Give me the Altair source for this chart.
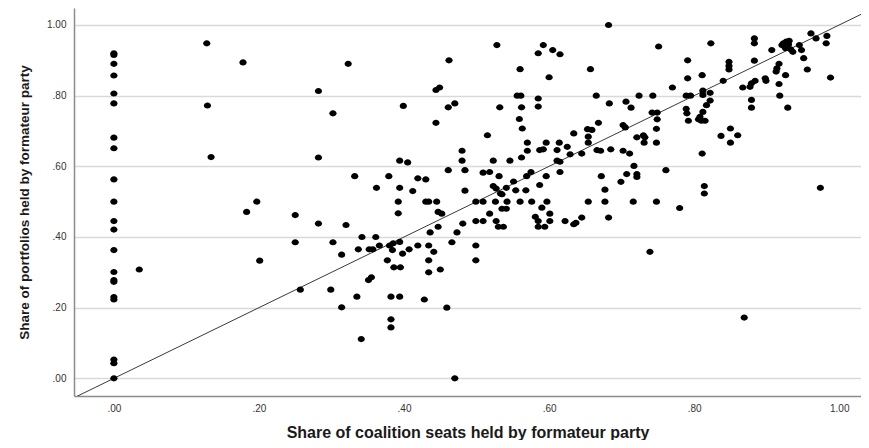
import altair as alt
import pandas as pd

# --- data (share of seats, share of portfolios) ---
x_g0 = [0.0] * 21
y_g0 = [0.92, 0.915, 0.89, 0.857, 0.806, 0.778, 0.681, 0.651, 0.563, 0.50, 0.445,
        0.421, 0.363, 0.301, 0.278, 0.273, 0.23, 0.223, 0.053, 0.043, 0.0]

x_g1 = [0.035, 0.128, 0.129, 0.134, 0.178, 0.183, 0.197, 0.201, 0.25, 0.25, 0.257]
y_g1 = [0.308, 0.948, 0.772, 0.626, 0.894, 0.471, 0.50, 0.333, 0.462, 0.385, 0.251]

x_g2 = [0.282, 0.282, 0.282, 0.299, 0.302, 0.302, 0.314, 0.314, 0.32, 0.323, 0.332,
        0.335, 0.337, 0.341, 0.342, 0.351, 0.352, 0.355, 0.357]
y_g2 = [0.625, 0.813, 0.438, 0.251, 0.75, 0.385, 0.350, 0.201, 0.434, 0.89, 0.572,
        0.231, 0.365, 0.111, 0.40, 0.278, 0.365, 0.286, 0.365]

x_g3 = [0.361, 0.362, 0.366, 0.377, 0.379, 0.380, 0.382, 0.382, 0.382, 0.384, 0.385,
        0.386, 0.392, 0.392, 0.394, 0.394, 0.394, 0.394, 0.395, 0.398, 0.399, 0.405,
        0.407, 0.412, 0.419, 0.419, 0.428, 0.430, 0.430, 0.434, 0.434, 0.434, 0.434,
        0.436, 0.441, 0.444, 0.444, 0.445, 0.447, 0.447, 0.449, 0.45]
y_g3 = [0.40, 0.539, 0.376, 0.334, 0.572, 0.376, 0.231, 0.167, 0.144, 0.363, 0.382,
        0.314, 0.50, 0.467, 0.616, 0.539, 0.386, 0.231, 0.314, 0.353, 0.771, 0.611,
        0.365, 0.530, 0.566, 0.376, 0.223, 0.563, 0.50, 0.50, 0.376, 0.334, 0.30,
        0.413, 0.358, 0.723, 0.816, 0.50, 0.471, 0.429, 0.823, 0.308]

x_g4 = [0.452, 0.459, 0.461, 0.461, 0.462, 0.466, 0.470, 0.470, 0.473, 0.480, 0.480,
        0.481, 0.484, 0.484, 0.499, 0.499, 0.499, 0.499, 0.509, 0.509, 0.509, 0.515,
        0.518, 0.518, 0.523, 0.523, 0.526, 0.527, 0.527, 0.528, 0.530, 0.531, 0.532,
        0.533, 0.535, 0.535, 0.537, 0.541, 0.541, 0.542, 0.546, 0.551, 0.554]
y_g4 = [0.466, 0.20, 0.767, 0.589, 0.90, 0.385, 0.0, 0.778, 0.413, 0.644, 0.616,
        0.438, 0.589, 0.531, 0.50, 0.376, 0.334, 0.445, 0.50, 0.582, 0.445, 0.688,
        0.584, 0.466, 0.616, 0.544, 0.50, 0.537, 0.445, 0.943, 0.429, 0.572, 0.767,
        0.523, 0.48, 0.521, 0.429, 0.48, 0.539, 0.50, 0.616, 0.557, 0.532]

x_g5 = [0.556, 0.56, 0.56, 0.559, 0.561, 0.562, 0.562, 0.563, 0.568, 0.569, 0.570,
        0.570, 0.575, 0.576, 0.581, 0.585, 0.585, 0.585, 0.585, 0.585, 0.587, 0.587,
        0.59, 0.592, 0.592, 0.594, 0.596, 0.596, 0.597, 0.60, 0.601, 0.601, 0.605,
        0.611, 0.611, 0.614, 0.615, 0.615, 0.615, 0.622, 0.625, 0.629, 0.634, 0.634,
        0.637, 0.645, 0.645]
y_g5 = [0.80, 0.50, 0.875, 0.734, 0.80, 0.767, 0.625, 0.707, 0.532, 0.572, 0.667,
        0.644, 0.584, 0.50, 0.457, 0.445, 0.429, 0.92, 0.792, 0.769, 0.547, 0.646,
        0.483, 0.943, 0.648, 0.429, 0.667, 0.572, 0.50, 0.852, 0.466, 0.445, 0.929,
        0.646, 0.616, 0.667, 0.917, 0.613, 0.584, 0.445, 0.655, 0.634, 0.693, 0.436,
        0.44, 0.636, 0.455]

x_g6 = [0.653, 0.654, 0.654, 0.654, 0.657, 0.659, 0.665, 0.666, 0.668, 0.671, 0.672,
        0.677, 0.677, 0.682, 0.682, 0.683, 0.685, 0.699, 0.702, 0.702, 0.705, 0.706,
        0.707, 0.711, 0.713, 0.716, 0.717, 0.721, 0.721, 0.721, 0.724, 0.730, 0.731,
        0.732, 0.739, 0.742, 0.743, 0.748, 0.748, 0.748, 0.749, 0.749, 0.751]
y_g6 = [0.705, 0.684, 0.667, 0.50, 0.875, 0.703, 0.80, 0.646, 0.723, 0.644, 0.572,
        0.534, 0.50, 1.0, 0.455, 0.778, 0.648, 0.556, 0.717, 0.644, 0.71, 0.783,
        0.578, 0.636, 0.766, 0.50, 0.601, 0.682, 0.578, 0.570, 0.80, 0.688, 0.667,
        0.682, 0.358, 0.752, 0.80, 0.706, 0.667, 0.50, 0.752, 0.733, 0.939]

x_g7 = [0.761, 0.770, 0.78, 0.789, 0.795, 0.789, 0.79, 0.792, 0.791, 0.791, 0.806,
        0.808, 0.81, 0.811, 0.811, 0.812, 0.812, 0.812, 0.814, 0.814, 0.815, 0.817,
        0.822, 0.822, 0.823, 0.837, 0.840, 0.848, 0.848, 0.848, 0.850, 0.850, 0.860]
y_g7 = [0.589, 0.823, 0.482, 0.80, 0.80, 0.763, 0.75, 0.729, 0.90, 0.849, 0.733,
        0.74, 0.729, 0.858, 0.636, 0.814, 0.802, 0.754, 0.544, 0.523, 0.729, 0.773,
        0.808, 0.786, 0.948, 0.686, 0.842, 0.896, 0.884, 0.874, 0.707, 0.667, 0.688]

x_g8 = [0.867, 0.869, 0.877, 0.879, 0.879, 0.879, 0.883, 0.883, 0.883, 0.884, 0.898,
        0.899, 0.907, 0.913, 0.914, 0.917, 0.917, 0.918, 0.921, 0.923, 0.925, 0.926,
        0.926, 0.927, 0.929, 0.93, 0.931, 0.933, 0.936, 0.945, 0.948, 0.951, 0.956,
        0.961, 0.968, 0.974, 0.982, 0.983, 0.988]
y_g8 = [0.823, 0.172, 0.825, 0.835, 0.788, 0.766, 0.962, 0.948, 0.899, 0.842, 0.849,
        0.842, 0.929, 0.868, 0.877, 0.890, 0.833, 0.80, 0.943, 0.948, 0.94, 0.934,
        0.858, 0.953, 0.766, 0.945, 0.955, 0.931, 0.924, 0.943, 0.929, 0.906, 0.874,
        0.976, 0.962, 0.539, 0.948, 0.969, 0.851]

tick_values = [0.0, 0.2, 0.4, 0.6, 0.8, 1.0]
x_domain = [-0.055, 1.030]
y_domain = [-0.05, 1.048]
diag_ends = [-0.2, 1.2]

seat_share = x_g0 + x_g1 + x_g2 + x_g3 + x_g4 + x_g5 + x_g6 + x_g7 + x_g8
portfolio_share = y_g0 + y_g1 + y_g2 + y_g3 + y_g4 + y_g5 + y_g6 + y_g7 + y_g8

df = pd.DataFrame({"seats": seat_share, "portfolios": portfolio_share})
diag = pd.DataFrame({"seats": diag_ends, "portfolios": diag_ends})

FONT = "Liberation Sans"
label_expr = "datum.value >= 1 ? format(datum.value, '.2f') : substring(format(datum.value, '.2f'), 1)"
ELLIPSE = "M -1.17 0 A 1.17 1 0 1 0 1.17 0 A 1.17 1 0 1 0 -1.17 0 Z"

x_enc = alt.X(
    "seats:Q",
    scale=alt.Scale(domain=x_domain, nice=False, zero=False),
    axis=alt.Axis(
        title="Share of coalition seats held by formateur party",
        values=tick_values, labelExpr=label_expr, grid=False, ticks=False,
        labelPadding=7, titlePadding=11, titleFontSize=16,
    ),
)
y_enc = alt.Y(
    "portfolios:Q",
    scale=alt.Scale(domain=y_domain, nice=False, zero=False),
    axis=alt.Axis(
        title="Share of portfolios held by formateur party",
        values=tick_values, labelExpr=label_expr, grid=True, ticks=False,
        labelPadding=8, titlePadding=15, titleFontSize=13.5,
    ),
)

points = alt.Chart(df).mark_point(
    filled=True, shape=ELLIPSE, size=38, color="#000000", opacity=1
).encode(x=x_enc, y=y_enc)

line = alt.Chart(diag).mark_line(
    color="#3a3a3a", strokeWidth=1, clip=True
).encode(x=alt.X("seats:Q"), y=alt.Y("portfolios:Q"))

chart = (
    alt.layer(line, points)
    .properties(
        width=853,
        height=432,
        padding={"left": 9, "top": 0, "right": 0, "bottom": 0},
        autosize=alt.AutoSizeParams(type="fit", contains="padding"),
    )
    .configure_view(strokeWidth=0)
    .configure_axis(
        labelFont=FONT, labelFontSize=10, labelColor="#333333",
        titleFont=FONT, titleFontWeight="bold", titleColor="#1a1a1a",
        domainColor="#8c8c8c", domainWidth=1.5,
        gridColor="#d9d9d9", gridWidth=1.5,
    )
)

chart.save("out.html", embed_options={"renderer": "svg", "actions": False})
